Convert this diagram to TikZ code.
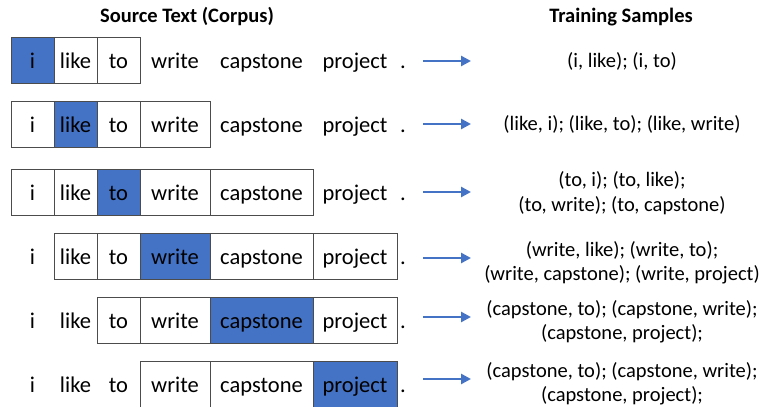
\documentclass[tikz,border=0pt]{standalone}
\usepackage{fontspec}
\setmainfont{Carlito}
\usepackage{xcolor}
\usetikzlibrary{arrows.meta}
\definecolor{wordblue}{HTML}{4472C4}

\begin{document}
\begin{tikzpicture}[x=1pt, y=-1pt,
        word/.style={minimum height=46pt, inner sep=0pt, text height=20pt, text depth=4pt,
            font=\fontsize{22.5}{24}\selectfont},
        cell/.style={word, draw=black!70, line width=0.8pt},
        target/.style={cell, fill=wordblue},
        sample/.style={align=center, inner sep=0pt, font=\fontsize{20.5}{24.5}\selectfont},
        title/.style={font=\bfseries\fontsize{20.5}{24}\selectfont},
        arr/.style={-{Triangle[length=10pt,width=10pt]}, wordblue, line width=2.6pt}]
        \useasboundingbox (0, 0) rectangle (761, 407);

        \node[title] (src) at (187, 17) {Source Text (Corpus)};
        \node[title] (trn) at (621, 17) {Training Samples};

        % context window rows: row / y / first boxed word / last boxed word
        \foreach \r/\y/\a/\b in {1/60/1/3, 2/124/1/4, 3/192/1/5, 4/256/2/6, 5/320/3/6, 6/384/4/6} {
            \foreach \c/\w/\cx/\cw in {1/i/32.5/43, 2/like/75.5/43, 3/to/118.5/43,
                    4/write/175/70, 5/capstone/261.5/103, 6/project/355/84} {
                \ifnum\c=\r \def\sty{target}\else
                    \ifnum\c<\a \def\sty{word}\else
                        \ifnum\c>\b \def\sty{word}\else \def\sty{cell}\fi\fi\fi
                \node[\sty, minimum width=\cw] (w\r\c) at (\cx, \y) {\w};
            }
            \node[word] (dot\r) at (403, \y) {.};
        }

        % arrows
        \foreach \r/\y in {1/61, 2/124, 3/192, 4/258, 5/317, 6/379} {
            \coordinate (as\r) at (423, \y);
            \coordinate (ae\r) at (471, \y);
            \draw[arr] (as\r) -- (ae\r);
        }

        \node[sample] (s1) at (622, 61) {(i, like); (i, to)};
        \node[sample] (s2) at (622, 124) {(like, i); (like, to); (like, write)};
        \node[sample] (s3) at (622, 193) {(to, i); (to, like);\\(to, write); (to, capstone)};
        \node[sample] (s4) at (622, 263) {(write, like); (write, to);\\(write, capstone); (write, project)};
        \node[sample] (s5) at (622, 322) {(capstone, to); (capstone, write);\\(capstone, project);};
        \node[sample] (s6) at (622, 384) {(capstone, to); (capstone, write);\\(capstone, project);};

        \end{tikzpicture}
\end{document}
